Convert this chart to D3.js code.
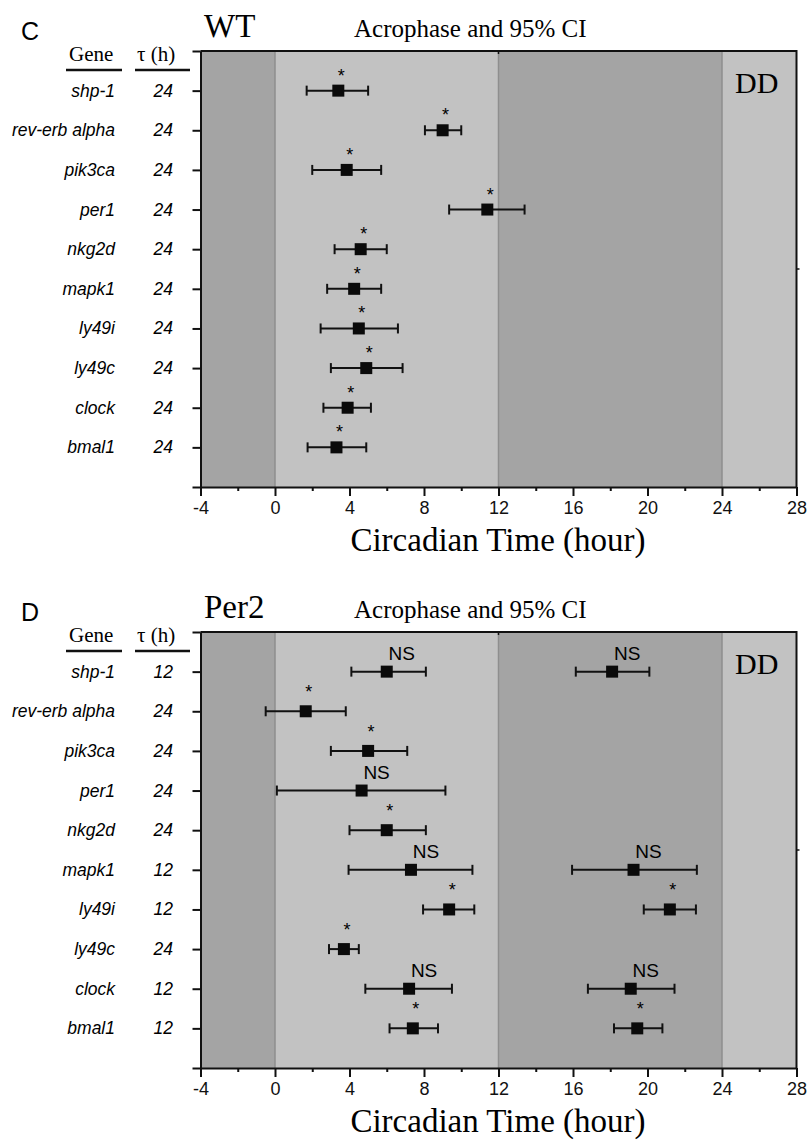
<!DOCTYPE html>
<html>
<head>
<meta charset="utf-8">
<script src="https://cdn.jsdelivr.net/npm/d3@7"></script>
<style>
  body { margin: 0; background: #fff; }
</style>
</head>
<body>
<div id="chart"></div>
<script>
// gene rows, top to bottom
const genes = ["shp-1", "rev-erb alpha", "pik3ca", "per1", "nkg2d", "mapk1", "ly49i", "ly49c", "clock", "bmal1"];

// WT: acrophase and 95% CI (hours)
const wtTau = [24, 24, 24, 24, 24, 24, 24, 24, 24, 24];
const wtPhase = [3.4, 9.0, 3.85, 11.4, 4.6, 4.25, 4.5, 4.9, 3.9, 3.3];
const wtLow = [1.7, 8.05, 2.0, 9.35, 3.2, 2.8, 2.45, 3.0, 2.6, 1.75];
const wtHigh = [5.0, 10.0, 5.7, 13.4, 6.0, 5.7, 6.6, 6.85, 5.15, 4.9];
const wtMark = ["*", "*", "*", "*", "*", "*", "*", "*", "*", "*"];

// Per2: first peak
const per2Tau = [12, 24, 24, 24, 24, 12, 12, 24, 12, 12];
const per2Phase = [6.0, 1.65, 5.0, 4.65, 6.0, 7.3, 9.35, 3.7, 7.2, 7.4];
const per2Low = [4.1, -0.5, 3.0, 0.1, 4.0, 3.95, 7.95, 2.9, 4.85, 6.15];
const per2High = [8.1, 3.8, 7.1, 9.15, 8.1, 10.6, 10.7, 4.5, 9.5, 8.75];
const per2Mark = ["NS", "*", "*", "NS", "*", "NS", "*", "*", "NS", "*"];

// Per2: second peak (12 h genes only)
const per2Phase2 = [18.1, null, null, null, null, 19.25, 21.2, null, 19.1, 19.45];
const per2Low2 = [16.15, null, null, null, null, 15.95, 19.8, null, 16.8, 18.2];
const per2High2 = [20.1, null, null, null, null, 22.65, 22.6, null, 21.45, 20.8];
const per2Mark2 = ["NS", null, null, null, null, "NS", "*", null, "NS", "*"];

// axis
const xTicks = [-4, 0, 4, 8, 12, 16, 20, 24, 28];
const xMinorTicks = [-2, 2, 6, 10, 14, 18, 22, 26];
const bandEdges = [-4, 0, 12, 24, 28];

const width = 808, height = 1142;
const sans = "'Liberation Sans', Arial, sans-serif";
const serif = "'Liberation Serif', 'Times New Roman', serif";
const darkBand = "#a4a4a4", lightBand = "#c2c2c2";

const svg = d3.select("#chart").append("svg")
    .attr("width", width)
    .attr("height", height);

const x = d3.scaleLinear().domain([-4, 28]).range([200.5, 796.5]);

function drawPanel(top, letter, title, tau, peaks, starDy) {
    const plotH = 436;
    const y = d3.scaleLinear().domain([0, 11]).range([top, top + plotH]);
    const g = svg.append("g");

    // light / dark bands
    for (let i = 0; i < bandEdges.length - 1; i++) {
        g.append("rect")
            .attr("x", x(bandEdges[i]))
            .attr("y", top)
            .attr("width", x(bandEdges[i + 1]) - x(bandEdges[i]))
            .attr("height", plotH)
            .attr("fill", i % 2 === 0 ? darkBand : lightBand);
    }
    bandEdges.slice(1, -1).forEach(e => {
        g.append("line")
            .attr("x1", x(e)).attr("x2", x(e))
            .attr("y1", top).attr("y2", top + plotH)
            .attr("stroke", "#8e8e8e").attr("stroke-width", 1.5);
    });

    // frame top + right
    g.append("path")
        .attr("d", `M${x(-4)},${top}H${x(28)}V${top + plotH}`)
        .attr("fill", "none").attr("stroke", "#111").attr("stroke-width", 2);
    // small stray ticks like the original
    g.append("line").attr("x1", x(12)).attr("x2", x(12)).attr("y1", top).attr("y2", top + 3)
        .attr("stroke", "#111").attr("stroke-width", 1.5);
    g.append("line").attr("x1", x(28)).attr("x2", x(28) + 3).attr("y1", y(5.5)).attr("y2", y(5.5))
        .attr("stroke", "#111").attr("stroke-width", 1.5);

    // x axis, major + minor ticks
    const xAxis = g.append("g")
        .attr("transform", `translate(0,${top + plotH})`)
        .call(d3.axisBottom(x).tickValues(xTicks).tickSize(9).tickSizeOuter(0).tickFormat(d => String(d)));
    xAxis.select(".domain").attr("stroke", "#111").attr("stroke-width", 2);
    xAxis.selectAll(".tick line").attr("stroke", "#111").attr("stroke-width", 2);
    xAxis.selectAll(".tick text")
        .attr("y", 14)
        .style("font-family", sans).style("font-size", "18px").attr("fill", "#111");
    const xMinor = g.append("g")
        .attr("transform", `translate(0,${top + plotH})`)
        .call(d3.axisBottom(x).tickValues(xMinorTicks).tickSize(4).tickFormat(""));
    xMinor.select(".domain").remove();
    xMinor.selectAll(".tick line").attr("stroke", "#111").attr("stroke-width", 2);

    // left axis
    const yAxis = g.append("g")
        .attr("transform", `translate(${x(-4)},0)`)
        .call(d3.axisLeft(y).tickValues(d3.range(0, 12)).tickSize(8).tickSizeOuter(0).tickFormat(""));
    yAxis.select(".domain").attr("stroke", "#111").attr("stroke-width", 2);
    yAxis.selectAll(".tick line").attr("stroke", "#111").attr("stroke-width", 2);

    // axis title
    g.append("text")
        .attr("x", 498).attr("y", top + 500)
        .attr("text-anchor", "middle")
        .style("font-family", serif).style("font-size", "33px")
        .text("Circadian Time (hour)");

    // headers
    g.append("text").attr("x", 21).attr("y", top - 11)
        .style("font-family", sans).style("font-size", "25px").text(letter);
    g.append("text").attr("x", 204).attr("y", top - 14)
        .style("font-family", serif).style("font-size", "33px").text(title);
    g.append("text").attr("x", 354).attr("y", top - 14)
        .style("font-family", serif).style("font-size", "25px").text("Acrophase and 95% CI");
    g.append("text").attr("x", 69).attr("y", top + 10)
        .style("font-family", serif).style("font-size", "21px").text("Gene");
    g.append("text").attr("x", 137).attr("y", top + 10)
        .style("font-family", serif).style("font-size", "21px").text("τ (h)");
    [[66, 122], [135, 190]].forEach(([a, b]) => {
        g.append("line").attr("x1", a).attr("x2", b)
            .attr("y1", top + 19).attr("y2", top + 19)
            .attr("stroke", "#111").attr("stroke-width", 2.5);
    });
    g.append("text").attr("x", 735).attr("y", top + 42)
        .style("font-family", serif).style("font-size", "30px").text("DD");

    // row labels
    genes.forEach((name, i) => {
        g.append("text")
            .attr("x", 115).attr("y", y(i + 1) + 6)
            .attr("text-anchor", "end")
            .style("font-family", sans).style("font-size", "17.5px").style("font-style", "italic")
            .text(name);
        g.append("text")
            .attr("x", 173).attr("y", y(i + 1) + 6)
            .attr("text-anchor", "end")
            .style("font-family", sans).style("font-size", "17.5px").style("font-style", "italic")
            .text(tau[i]);
    });

    // error bars + squares
    peaks.forEach(p => {
        p.phase.forEach((v, i) => {
            if (v === null) return;
            const cy = y(i + 1);
            const bar = g.append("g").attr("stroke", "#111").attr("stroke-width", 2);
            bar.append("line").attr("x1", x(p.low[i])).attr("x2", x(p.high[i])).attr("y1", cy).attr("y2", cy);
            bar.append("line").attr("x1", x(p.low[i])).attr("x2", x(p.low[i])).attr("y1", cy - 5).attr("y2", cy + 5);
            bar.append("line").attr("x1", x(p.high[i])).attr("x2", x(p.high[i])).attr("y1", cy - 5).attr("y2", cy + 5);
            g.append("rect")
                .attr("x", x(v) - 6).attr("y", cy - 6)
                .attr("width", 12).attr("height", 12)
                .attr("fill", "#0a0a0a");
            const m = p.mark[i];
            if (m === "*") {
                g.append("text")
                    .attr("x", x(v) + 3).attr("y", cy - starDy)
                    .attr("text-anchor", "middle")
                    .style("font-family", sans).style("font-size", "18px")
                    .text("*");
            } else if (m === "NS") {
                g.append("text")
                    .attr("x", x(v) + 15).attr("y", cy - 12)
                    .attr("text-anchor", "middle")
                    .style("font-family", sans).style("font-size", "19px")
                    .text("NS");
            }
        });
    });
}

drawPanel(51, "C", "WT", wtTau,
    [{ phase: wtPhase, low: wtLow, high: wtHigh, mark: wtMark }], 9);

drawPanel(632, "D", "Per2", per2Tau,
    [{ phase: per2Phase, low: per2Low, high: per2High, mark: per2Mark },
     { phase: per2Phase2, low: per2Low2, high: per2High2, mark: per2Mark2 }], 13);
</script>
</body>
</html>
